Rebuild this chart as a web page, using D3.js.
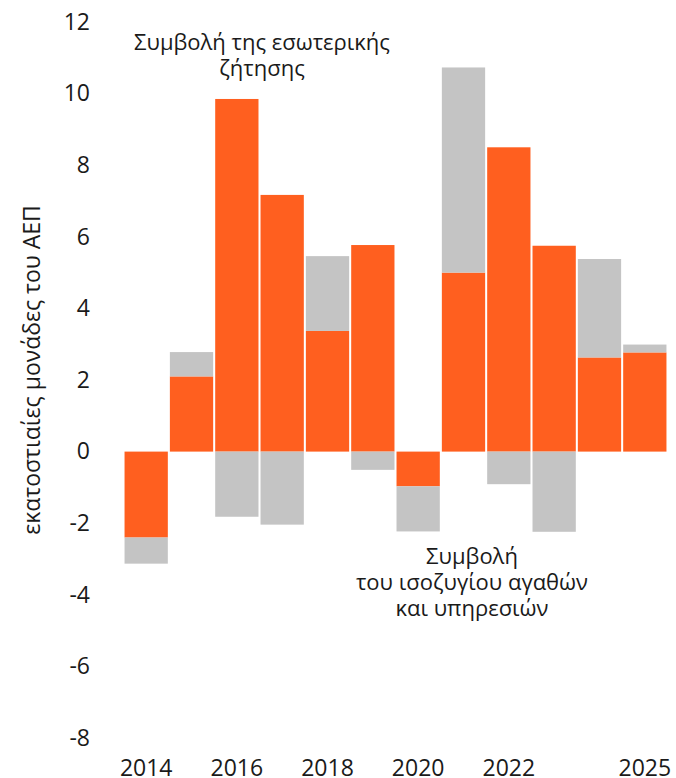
<!DOCTYPE html>
<html>
<head>
<meta charset="utf-8">
<script src="https://cdn.jsdelivr.net/npm/d3@7"></script>
<style>
  html, body { margin: 0; padding: 0; background: #fff; }
  svg { display: block; font-family: "Open Sans", "Noto Sans", sans-serif; }
</style>
</head>
<body>
<div id="chart"><svg></svg></div>
<script>
// contributions to GDP growth, percentage points
const years = [2014, 2015, 2016, 2017, 2018, 2019, 2020, 2021, 2022, 2023, 2024, 2025];
const domesticDemand = [-2.4, 2.1, 9.85, 7.17, 3.37, 5.77, -0.97, 5.0, 8.5, 5.75, 2.63, 2.77];
const netExports = [-0.73, 0.68, -1.82, -2.04, 2.09, -0.51, -1.26, 5.73, -0.91, -2.24, 2.75, 0.22];
const yTicks = [-8, -6, -4, -2, 0, 2, 4, 6, 8, 10, 12];
const xLabels = [2014, 2016, 2018, 2020, 2022, 2025];

const W = 676, H = 778;
const ORANGE = "#ff5f1f", GREY = "#c4c4c4", TEXT = "#1a1a1a";

const svg = d3.select("#chart svg").attr("width", W).attr("height", H);

const rows = years.map((y, i) => ({ year: y, dom: domesticDemand[i], nx: netExports[i] }));

const series = d3.stack()
  .keys(["dom", "nx"])
  .offset(d3.stackOffsetDiverging)(rows);

const x = d3.scaleBand()
  .domain(years)
  .range([122.5, 668.5])
  .padding(0.045);

const y = d3.scaleLinear()
  .domain([-8, 12])
  .range([738, 22]);

const color = d3.scaleOrdinal(["dom", "nx"], [ORANGE, GREY]);

// bars
svg.append("g")
  .selectAll("g")
  .data(series)
  .join("g")
  .attr("fill", (s) => color(s.key))
  .selectAll("rect")
  .data((s) => s)
  .join("rect")
  .attr("x", (d) => x(d.data.year))
  .attr("width", x.bandwidth())
  .attr("y", (d) => y(Math.max(d[0], d[1])))
  .attr("height", (d) => Math.abs(y(d[0]) - y(d[1])));

// y tick labels, no axis line
svg.append("g")
  .attr("transform", "translate(90,0)")
  .call(d3.axisLeft(y).tickValues(yTicks).tickSize(0).tickPadding(0).tickFormat(d3.format("d")))
  .call((g) => g.select(".domain").remove())
  .selectAll("text")
  .style("font-size", "23px")
  .style("font-family", "\"Open Sans\", \"Noto Sans\", sans-serif")
  .attr("fill", TEXT)
  .text((d) => String(d).replace("\u2212", "-"));

// x labels
svg.append("g")
  .selectAll("text")
  .data(xLabels)
  .join("text")
  .attr("x", (d) => x(d) + x.bandwidth() / 2)
  .attr("y", 776)
  .attr("text-anchor", "middle")
  .style("font-size", "23px")
  .attr("fill", TEXT)
  .text((d) => d);

// y axis title
svg.append("text")
  .attr("transform", "translate(40,370) rotate(-90)")
  .attr("text-anchor", "middle")
  .style("font-size", "23px")
  .attr("fill", TEXT)
  .text("εκατοστιαίες μονάδες του ΑΕΠ");

// annotations
const note = (lines, cx, y0, lh) => {
  svg.append("text")
    .attr("text-anchor", "middle")
    .style("font-size", "22px")
    .attr("fill", TEXT)
    .selectAll("tspan")
    .data(lines)
    .join("tspan")
    .attr("x", cx)
    .attr("y", (d, i) => y0 + i * lh)
    .text((d) => d);
};

note(["Συμβολή της εσωτερικής", "ζήτησης"], 262, 50, 26);
note(["Συμβολή", "του ισοζυγίου αγαθών", "και υπηρεσιών"], 472, 564, 26);
</script>
</body>
</html>
